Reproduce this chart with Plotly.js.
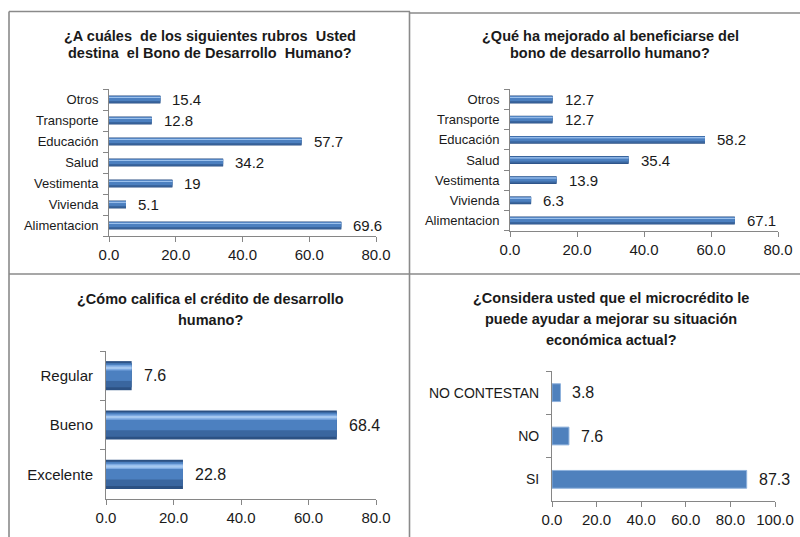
<!DOCTYPE html>
<html>
<head>
<meta charset="utf-8">
<script src="https://cdn.plot.ly/plotly-3.0.1.min.js"></script>
<style>
  html, body { margin: 0; padding: 0; background: #ffffff; }
  #chart { width: 800px; height: 537px; }
</style>
</head>
<body>
<div id="chart"></div>
<script>
// Survey results: four horizontal bar panels (percentages)
const rubrosCats = ['Alimentacion', 'Vivienda', 'Vestimenta', 'Salud', 'Educación', 'Transporte', 'Otros'];
const destinoVals = [69.6, 5.1, 19, 34.2, 57.7, 12.8, 15.4];
const mejoraVals = [67.1, 6.3, 13.9, 35.4, 58.2, 12.7, 12.7];

const calificaCats = ['Excelente', 'Bueno', 'Regular'];
const calificaVals = [22.8, 68.4, 7.6];

const ayudaCats = ['SI', 'NO', 'NO CONTESTAN'];
const ayudaVals = [87.3, 7.6, 3.8];

const ticks80 = [0, 20, 40, 60, 80];
const ticks100 = [0, 20, 40, 60, 80, 100];

const title1 = ['¿A cuáles  de los siguientes rubros  Usted', 'destina  el Bono de Desarrollo  Humano?'];
const title2 = ['¿Qué ha mejorado al beneficiarse del', 'bono de desarrollo humano?'];
const title3 = ['¿Cómo califica el crédito de desarrollo', 'humano?'];
const title4 = ['¿Considera usted que el microcrédito le', 'puede ayudar a mejorar su situación', 'económica actual?'];

const W = 800, H = 537;
const FONT = 'Liberation Sans, Arial, sans-serif';
const fx = p => p / W;
const fy = p => 1 - p / H;

// pixel boxes of each plotting area: [left, right, top, bottom]
const boxes = [
  [109, 376, 89, 236],
  [510, 778, 89, 231],
  [106, 376, 351, 499],
  [552, 775, 371, 501]
];

const traces = [];
const annotations = [];

// cylinder-like bar built from stacked overlay layers (offsets as fractions of bar width)
function shadedBars(cats, vals, ax, w) {
  const xa = 'x' + ax, ya = 'y' + ax;
  const layers = [
    { c: '#2c5183', lo: -0.5, hi: 0.5 },
    { c: '#3a669f', lo: -0.4, hi: 0.44 },
    { c: '#4c80c0', lo: -0.18, hi: 0.42 },
    { c: '#7eaae2', lo: 0.18, hi: 0.36 },
    { c: '#a6c8f0', lo: 0.23, hi: 0.31 }
  ];
  layers.forEach(l => {
    traces.push({
      type: 'bar', orientation: 'h', x: vals, y: cats,
      xaxis: xa, yaxis: ya,
      width: w * (l.hi - l.lo), offset: w * l.lo,
      marker: { color: l.c, line: { width: 0 } },
      hoverinfo: 'skip', showlegend: false
    });
  });
}

function flatBars(cats, vals, ax, w) {
  traces.push({
    type: 'bar', orientation: 'h', x: vals, y: cats,
    xaxis: 'x' + ax, yaxis: 'y' + ax,
    width: w, offset: -w / 2,
    marker: { color: '#4f81bd', line: { color: '#8eb1dc', width: 1 } },
    hoverinfo: 'skip', showlegend: false
  });
}

function valueLabels(cats, vals, ax, size, shift) {
  vals.forEach((v, i) => {
    annotations.push({
      xref: 'x' + ax, yref: 'y' + ax, x: v, y: cats[i],
      text: String(v), showarrow: false, xanchor: 'left', yanchor: 'middle',
      xshift: shift, font: { family: FONT, size: size, color: '#1a1a1a' }
    });
  });
}

function titleLines(lines, cx, ys) {
  lines.forEach((t, i) => {
    annotations.push({
      xref: 'paper', yref: 'paper', x: fx(cx), y: fy(ys[i]),
      text: '<b>' + t + '</b>', showarrow: false, xanchor: 'center', yanchor: 'middle',
      font: { family: FONT, size: 14.5, color: '#1a1a1a' }
    });
  });
}

shadedBars(rubrosCats, destinoVals, 1, 0.38);
shadedBars(rubrosCats, mejoraVals, 2, 0.39);
shadedBars(calificaCats, calificaVals, 3, 0.59);
flatBars(ayudaCats, ayudaVals, 4, 0.41);

valueLabels(rubrosCats, destinoVals, 1, 15, 10);
valueLabels(rubrosCats, mejoraVals, 2, 15, 10);
valueLabels(calificaCats, calificaVals, 3, 16, 10);
valueLabels(ayudaCats, ayudaVals, 4, 16, 10);

titleLines(title1, 210, [36, 53]);
titleLines(title2, 610, [36, 53]);
titleLines(title3, 210, [299, 320]);
titleLines(title4, 611, [298, 319, 340]);

const frame = { color: '#8a8a8a', width: 1.6 };
const layout = {
  width: W, height: H,
  margin: { l: 0, r: 0, t: 0, b: 0, pad: 0 },
  paper_bgcolor: '#ffffff', plot_bgcolor: 'rgba(0,0,0,0)',
  barmode: 'overlay',
  showlegend: false,
  annotations: annotations,
  shapes: [
    // panel frames
    { type: 'line', xref: 'paper', yref: 'paper', x0: fx(9), x1: fx(410), y0: fy(11.5), y1: fy(11.5), line: frame },
    { type: 'line', xref: 'paper', yref: 'paper', x0: fx(410), x1: fx(800), y0: fy(13), y1: fy(13), line: frame },
    { type: 'line', xref: 'paper', yref: 'paper', x0: fx(9), x1: fx(9), y0: fy(11.5), y1: fy(537), line: frame },
    { type: 'line', xref: 'paper', yref: 'paper', x0: fx(409.5), x1: fx(409.5), y0: fy(11.5), y1: fy(537), line: frame },
    { type: 'line', xref: 'paper', yref: 'paper', x0: fx(9), x1: fx(800), y0: fy(274), y1: fy(274), line: frame }
  ]
};

const catFont = [13, 13, 15, 14];
const standoff = [7, 7, 9, 9];
boxes.forEach((b, i) => {
  const n = i + 1;
  const xk = n === 1 ? 'xaxis' : 'xaxis' + n;
  const yk = n === 1 ? 'yaxis' : 'yaxis' + n;
  const tv = n === 4 ? ticks100 : ticks80;
  layout[xk] = {
    domain: [fx(b[0]), fx(b[1])], anchor: n === 1 ? 'y' : 'y' + n,
    range: [0, tv[tv.length - 1]], tickvals: tv, ticktext: tv.map(t => t.toFixed(1)),
    ticks: 'outside', ticklen: 5, tickcolor: '#868686', tickwidth: 1,
    showline: true, linecolor: '#868686', linewidth: 1,
    showgrid: false, zeroline: false, fixedrange: true,
    tickfont: { family: FONT, size: 15, color: '#1a1a1a' }
  };
  layout[yk] = {
    domain: [fy(b[3]), fy(b[2])], anchor: n === 1 ? 'x' : 'x' + n,
    type: 'category', tickson: 'boundaries',
    ticks: 'outside', ticklen: 5, tickcolor: '#868686', tickwidth: 1,
    ticklabelstandoff: standoff[i],
    showline: true, linecolor: '#868686', linewidth: 1,
    showgrid: false, zeroline: false, fixedrange: true,
    tickfont: { family: FONT, size: catFont[i], color: '#1a1a1a' }
  };
});

Plotly.newPlot('chart', traces, layout, { displayModeBar: false, staticPlot: true });
</script>
</body>
</html>
